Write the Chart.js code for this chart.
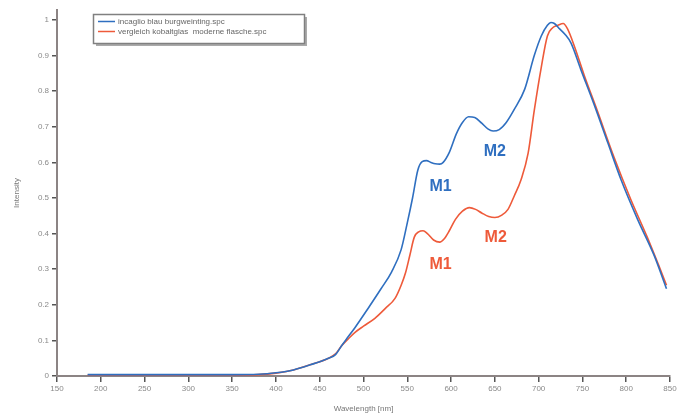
<!DOCTYPE html>
<html>
<head>
<meta charset="utf-8">
<script src="https://cdn.jsdelivr.net/npm/chart.js@4.4.1/dist/chart.umd.min.js"></script>
<style>
  html, body { margin: 0; padding: 0; background: #fff; }
  #wrap { width: 688px; height: 416px; position: relative; }
</style>
</head>
<body>
<div id="wrap"><canvas id="myChart"></canvas></div>
<script>
// spectra
const seriesNames = ["incaglio blau burgweinting.spc", "vergleich kobaltglas  moderne flasche.spc"];

const blueWavelength = [185, 200, 250, 300, 350, 380, 400, 420, 440, 460, 468, 475, 480, 490, 505, 520, 532, 543, 550, 556, 562, 567, 572, 577, 582, 587, 591, 598, 606, 613, 620, 627, 635, 642, 648, 655, 663, 672, 684, 695, 703, 710, 714, 718, 724, 730, 737, 748, 763, 779, 794, 813, 832, 846];
const blueIntensity = [0.004, 0.004, 0.004, 0.004, 0.004, 0.005, 0.009, 0.017, 0.032, 0.05, 0.06, 0.085, 0.102, 0.135, 0.189, 0.245, 0.292, 0.355, 0.43, 0.5, 0.578, 0.602, 0.605, 0.6, 0.596, 0.595, 0.6, 0.628, 0.68, 0.712, 0.728, 0.726, 0.71, 0.694, 0.688, 0.692, 0.712, 0.748, 0.805, 0.9, 0.955, 0.985, 0.993, 0.99, 0.975, 0.96, 0.935, 0.862, 0.765, 0.655, 0.552, 0.44, 0.338, 0.245];

const redWavelength = [185, 200, 250, 300, 350, 380, 400, 420, 440, 460, 468, 475, 482, 490, 500, 513, 525, 536, 543, 548, 553, 558, 563, 568, 573, 580, 587, 592, 598, 605, 613, 621, 628, 635, 643, 650, 658, 665, 672, 680, 688, 695, 703, 710, 716, 722, 728, 733, 741, 752, 767, 786, 805, 824, 838, 846];
const redIntensity = [0.003, 0.003, 0.003, 0.003, 0.003, 0.004, 0.008, 0.017, 0.032, 0.05, 0.062, 0.085, 0.103, 0.122, 0.14, 0.162, 0.19, 0.218, 0.255, 0.29, 0.34, 0.39, 0.405, 0.408, 0.4, 0.382, 0.376, 0.385, 0.408, 0.44, 0.463, 0.473, 0.468, 0.458, 0.448, 0.445, 0.452, 0.468, 0.505, 0.552, 0.626, 0.746, 0.867, 0.955, 0.978, 0.985, 0.99, 0.975, 0.925, 0.845, 0.745, 0.615, 0.497, 0.39, 0.305, 0.255];

const yTicks = [0, 0.1, 0.2, 0.3, 0.4, 0.5, 0.6, 0.7, 0.8, 0.9, 1];

// band labels, in data units
const markText = ["M1", "M2", "M1", "M2"];
const markX = [588, 650, 588, 651];
const markY = [0.533, 0.63, 0.313, 0.388];
const markSeries = [0, 0, 1, 1];

const colors = ["#2f6fc0", "#ee5a3a"];
const FONT = "'Liberation Sans', Arial, sans-serif";

function toPoints(xs, ys) {
  return xs.map((x, i) => ({ x: x, y: ys[i] }));
}

const markPlugin = {
  id: "marks",
  afterDatasetsDraw(chart) {
    const ctx = chart.ctx;
    const xs = chart.scales.x, ys = chart.scales.y;
    ctx.save();
    ctx.font = "bold 16px " + FONT;
    ctx.textAlign = "center";
    ctx.textBaseline = "middle";
    for (let i = 0; i < markText.length; i++) {
      ctx.fillStyle = colors[markSeries[i]];
      ctx.fillText(markText[i], xs.getPixelForValue(markX[i]), ys.getPixelForValue(markY[i]));
    }
    ctx.restore();
  }
};

const legendBox = {
  id: "legendBox",
  afterDraw(chart) {
    const ctx = chart.ctx;
    ctx.save();
    // shadow
    ctx.fillStyle = "#aaa";
    ctx.fillRect(96, 17, 211, 29);
    ctx.fillStyle = "#fff";
    ctx.fillRect(93.5, 14.5, 211, 29);
    ctx.strokeStyle = "#808080";
    ctx.lineWidth = 1.5;
    ctx.strokeRect(93.5, 14.5, 211, 29);
    ctx.font = "8px " + FONT;
    ctx.textBaseline = "middle";
    chart.data.datasets.forEach((ds, i) => {
      const y = 21.5 + i * 10;
      ctx.strokeStyle = ds.borderColor;
      ctx.lineWidth = 1.5;
      ctx.beginPath();
      ctx.moveTo(98, y);
      ctx.lineTo(115, y);
      ctx.stroke();
      ctx.fillStyle = "#666";
      ctx.fillText(ds.label, 118, y);
    });
    ctx.restore();
  }
};

const ctx = document.getElementById("myChart").getContext("2d");
new Chart(ctx, {
  type: "line",
  data: {
    datasets: [
      {
        label: seriesNames[0],
        data: toPoints(blueWavelength, blueIntensity),
        borderColor: colors[0],
        borderWidth: 1.6,
        pointRadius: 0,
        tension: 0.4,
        cubicInterpolationMode: "monotone",
        fill: false
      },
      {
        label: seriesNames[1],
        data: toPoints(redWavelength, redIntensity),
        borderColor: colors[1],
        borderWidth: 1.6,
        pointRadius: 0,
        tension: 0.4,
        cubicInterpolationMode: "monotone",
        fill: false
      }
    ]
  },
  options: {
    responsive: true,
    maintainAspectRatio: false,
    animation: false,
    layout: { padding: { left: 0, right: 18, top: 10, bottom: 0 } },
    plugins: {
      legend: { display: false },
      tooltip: { enabled: false }
    },
    scales: {
      x: {
        type: "linear",
        min: 150,
        max: 850,
        afterFit: (s) => { s.height = 40; },
        ticks: {
          stepSize: 50,
          color: "#8a8a8a",
          font: { size: 8, family: FONT },
          padding: 2,
          maxRotation: 0
        },
        grid: { drawOnChartArea: false, drawTicks: true, tickLength: 6, color: "#555", lineWidth: 1.5 },
        border: { display: true, color: "#8c8484", width: 2 },
        title: {
          display: true,
          text: "Wavelength [nm]",
          color: "#777",
          font: { size: 8, family: FONT },
          padding: { top: 0, bottom: 2 }
        }
      },
      y: {
        min: 0,
        max: 1.028,
        afterFit: (s) => { s.width = 57; },
        afterBuildTicks: (s) => { s.ticks = yTicks.map(v => ({ value: v })); },
        ticks: {
          color: "#8a8a8a",
          font: { size: 8, family: FONT },
          padding: 3,
          callback: (v) => String(Math.round(v * 10) / 10)
        },
        grid: { drawOnChartArea: false, drawTicks: true, tickLength: 5, color: "#555", lineWidth: 1.5 },
        border: { display: true, color: "#8c8484", width: 2 },
        title: {
          display: true,
          text: "Intensity",
          color: "#777",
          font: { size: 8, family: FONT },
          padding: { top: 12, bottom: 0 }
        }
      }
    }
  },
  plugins: [markPlugin, legendBox]
});
</script>
</body>
</html>
